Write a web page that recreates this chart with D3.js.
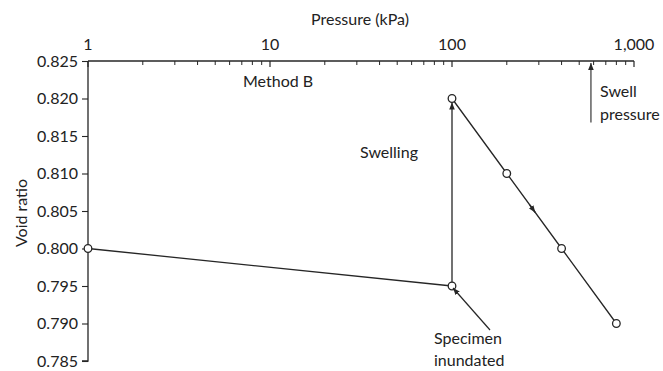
<!DOCTYPE html>
<html>
<head>
<meta charset="utf-8">
<script src="https://cdn.jsdelivr.net/npm/d3@7"></script>
<style>
  html, body { margin: 0; padding: 0; background: #fff; }
  svg text { font-family: Lato, "Open Sans", sans-serif; fill: #222; }
</style>
</head>
<body>
<svg id="chart" width="663" height="371"></svg>
<script>
// Oedometer swell test (Method B): void ratio vs pressure
const loadingPressure = [1, 100];          // kPa, before inundation
const loadingVoid = [0.800, 0.795];
const swellPressureStep = [100, 100];      // specimen inundated, swells at constant load
const swellVoid = [0.795, 0.820];
const reloadPressure = [100, 200, 400, 800];
const reloadVoid = [0.820, 0.810, 0.800, 0.790];
const swellPressure = 580;                 // kPa
const xTickLabels = ["1", "10", "100", "1,000"];
const xTickValues = [1, 10, 100, 1000];
const yTickValues = [0.825, 0.820, 0.815, 0.810, 0.805, 0.800, 0.795, 0.790, 0.785];

const svg = d3.select("#chart");
const ink = "#262626";

const x = d3.scaleLog().domain([1, 1000]).range([88, 634]);
const y = d3.scaleLinear().domain([0.785, 0.825]).range([361, 61]);

// arrowhead marker
svg.append("defs").append("marker")
  .attr("id", "arrow")
  .attr("viewBox", "0 0 10 10")
  .attr("refX", 10).attr("refY", 5)
  .attr("markerWidth", 7).attr("markerHeight", 7)
  .attr("markerUnits", "userSpaceOnUse")
  .attr("orient", "auto")
  .append("path")
  .attr("d", "M0,1 L10,5 L0,9 Z")
  .attr("fill", ink);

// top (log) pressure axis
const minorTicks = [];
for (let d = 1; d < 1000; d *= 10) {
  for (let k = 2; k <= 9; k++) minorTicks.push(d * k);
}
const topAxis = svg.append("g");
topAxis.append("line")
  .attr("x1", x(1)).attr("x2", x(1000))
  .attr("y1", y(0.825)).attr("y2", y(0.825))
  .attr("stroke", ink).attr("stroke-width", 1.3);
topAxis.selectAll("line.minor").data(minorTicks).join("line")
  .attr("class", "minor")
  .attr("x1", d => x(d)).attr("x2", d => x(d))
  .attr("y1", y(0.825)).attr("y2", y(0.825) + 4)
  .attr("stroke", ink).attr("stroke-width", 1);
topAxis.selectAll("line.major").data(xTickValues).join("line")
  .attr("class", "major")
  .attr("x1", d => x(d)).attr("x2", d => x(d))
  .attr("y1", y(0.825)).attr("y2", y(0.825) + 6)
  .attr("stroke", ink).attr("stroke-width", 1.2);
topAxis.selectAll("text").data(xTickValues).join("text")
  .attr("x", d => x(d)).attr("y", 50)
  .attr("text-anchor", "middle")
  .attr("font-size", 16)
  .text((d, i) => xTickLabels[i]);

svg.append("text")
  .attr("x", 360).attr("y", 25)
  .attr("text-anchor", "middle")
  .attr("font-size", 16)
  .text("Pressure (kPa)");

// left void ratio axis
const leftAxis = d3.axisLeft(y).tickValues(yTickValues)
  .tickFormat(d3.format(".3f")).tickSize(6).tickPadding(4);
const gy = svg.append("g").attr("transform", `translate(${x(1)},0)`).call(leftAxis);
gy.select(".domain").attr("stroke", ink).attr("stroke-width", 1.3).attr("d", `M-6,${y(0.785)}H0V${y(0.825)}H0`);
gy.selectAll(".tick line").attr("stroke", ink).attr("stroke-width", 1.1);
gy.selectAll(".tick text")
  .attr("font-size", 16)
  .attr("fill", "#222")
  .style("font-family", "Lato, 'Open Sans', sans-serif");

svg.append("text")
  .attr("transform", `translate(27,${(y(0.785) + y(0.825)) / 2 + 2}) rotate(-90)`)
  .attr("text-anchor", "middle")
  .attr("font-size", 16)
  .text("Void ratio");

// compression/swelling path
const line = d3.line().x(d => x(d[0])).y(d => y(d[1]));
const seg1 = d3.zip(loadingPressure, loadingVoid);
const seg2 = d3.zip(swellPressureStep, swellVoid);
const seg3 = d3.zip(reloadPressure, reloadVoid);

svg.append("path").datum(seg1).attr("d", line)
  .attr("fill", "none").attr("stroke", ink).attr("stroke-width", 1.3);

// swelling at constant load, arrow just under the upper point
svg.append("line")
  .attr("x1", x(seg2[0][0])).attr("y1", y(seg2[0][1]))
  .attr("x2", x(seg2[1][0])).attr("y2", y(seg2[1][1]) + 4)
  .attr("stroke", ink).attr("stroke-width", 1.3)
  .attr("marker-end", "url(#arrow)");

svg.append("path").datum(seg3).attr("d", line)
  .attr("fill", "none").attr("stroke", ink).attr("stroke-width", 1.3);

// direction arrow on reloading branch, between 200 and 400 kPa
{
  const a = seg3[1], b = seg3[2];
  const xa = x(a[0]), ya = y(a[1]), xb = x(b[0]), yb = y(b[1]);
  const t = 0.52;
  svg.append("line")
    .attr("x1", xa + (xb - xa) * (t - 0.1)).attr("y1", ya + (yb - ya) * (t - 0.1))
    .attr("x2", xa + (xb - xa) * t).attr("y2", ya + (yb - ya) * t)
    .attr("stroke", ink).attr("stroke-width", 1.3)
    .attr("marker-end", "url(#arrow)");
}

// measured points
const points = seg1.concat([seg2[1]], seg3.slice(1));
svg.selectAll("circle.pt").data(points).join("circle")
  .attr("class", "pt")
  .attr("cx", d => x(d[0])).attr("cy", d => y(d[1]))
  .attr("r", 3.8)
  .attr("fill", "#fff").attr("stroke", ink).attr("stroke-width", 1.3);

// swell pressure marker
svg.append("line")
  .attr("x1", x(swellPressure)).attr("x2", x(swellPressure))
  .attr("y1", y(0.8168)).attr("y2", y(0.825) + 2)
  .attr("stroke", ink).attr("stroke-width", 1.1)
  .attr("marker-end", "url(#arrow)");

// inundation pointer
{
  const p = seg1[1];
  svg.append("line")
    .attr("x1", x(p[0]) + 38).attr("y1", y(p[1]) + 44)
    .attr("x2", x(p[0]) + 1).attr("y2", y(p[1]) + 2)
    .attr("stroke", ink).attr("stroke-width", 1.2)
    .attr("marker-end", "url(#arrow)");
}

// annotations
const notes = [
  { text: "Method B", x: 243, y: 87 },
  { text: "Swelling", x: 360, y: 158 },
  { text: "Swell", x: 600, y: 97 },
  { text: "pressure", x: 600, y: 120 },
  { text: "Specimen", x: 434, y: 344 },
  { text: "inundated", x: 434, y: 366 }
];
svg.selectAll("text.note").data(notes).join("text")
  .attr("class", "note")
  .attr("x", d => d.x).attr("y", d => d.y)
  .attr("font-size", 16)
  .text(d => d.text);
</script>
</body>
</html>
